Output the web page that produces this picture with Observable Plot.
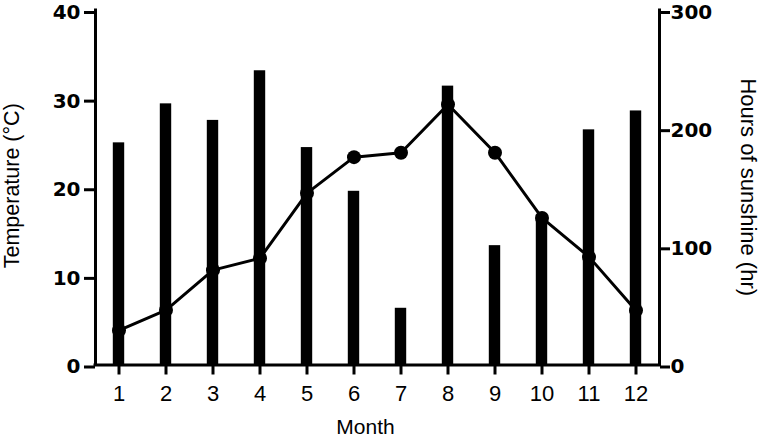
<!DOCTYPE html>
<html>
<head>
<meta charset="utf-8">
<script src="https://cdn.jsdelivr.net/npm/d3@7"></script>
<script src="https://cdn.jsdelivr.net/npm/@observablehq/plot@0.6"></script>
<style>
  html, body { margin: 0; padding: 0; background: #fff; }
  svg { display: block; }
</style>
</head>
<body>
<div id="chart"></div>
<script>
const months = [1, 2, 3, 4, 5, 6, 7, 8, 9, 10, 11, 12];
const temperature = [3.9, 6.2, 10.7, 12.05, 19.4, 23.45, 23.95, 29.4, 23.95, 16.6, 12.2, 6.15];
const sunshine = [188, 221, 207, 249, 184, 147, 48, 236, 101, 127, 199, 215];
const tempTicks = [0, 10, 20, 30, 40];
const sunTicks = [0, 100, 200, 300];
const tempMax = 40, sunMax = 300;
const ratio = tempMax / sunMax;

const data = months.map((m, i) => ({month: m, temp: temperature[i], sun: sunshine[i]}));

const tickFont = "'DejaVu Sans', sans-serif";
const textFont = "'Liberation Sans', Arial, sans-serif";

const chart = Plot.plot({
  width: 760,
  height: 438,
  marginLeft: 95,
  marginRight: 101,
  marginTop: 10,
  marginBottom: 73.5,
  style: {background: "#fff", color: "#000"},
  x: {type: "linear", domain: [0.5, 12.5]},
  y: {domain: [0, tempMax]},
  marks: [
    Plot.rectY(data, {x1: d => d.month - 0.5, x2: d => d.month + 0.5, y1: 0, y2: d => d.sun * ratio, fill: "#000", insetLeft: 17.8, insetRight: 17.8}),
    Plot.line(data, {x: "month", y: "temp", stroke: "#000", strokeWidth: 3}),
    Plot.dot(data, {x: "month", y: "temp", r: 7, fill: "#000"}),
    Plot.axisY({ticks: tempTicks, tickSize: 11, tickPadding: 4, strokeWidth: 3, fontSize: 20, fontWeight: "bold", fontFamily: tickFont, dy: 2, label: null}),
    Plot.axisY({anchor: "right", ticks: sunTicks.map(v => v * ratio), tickFormat: v => String(Math.round(v / ratio)), tickSize: 10, tickPadding: 1, strokeWidth: 3, fontSize: 20, fontWeight: "bold", fontFamily: tickFont, dy: 2, label: null}),
    Plot.axisX({ticks: months, tickFormat: d => String(d), tickSize: 10, tickPadding: 10, strokeWidth: 3, fontSize: 22, fontFamily: textFont, label: null}),
    Plot.ruleX([0.5, 12.5], {stroke: "#000", strokeWidth: 3, strokeLinecap: "square"}),
    Plot.ruleY([0], {stroke: "#000", strokeWidth: 3, strokeLinecap: "square"}),
    Plot.text(["Month"], {frameAnchor: "bottom", textAnchor: "middle", lineAnchor: "middle", text: d => d, dx: -12, dy: 62.5, fontSize: 21, fontFamily: textFont, fill: "#000"}),
    Plot.text(["Temperature (°C)"], {frameAnchor: "left", textAnchor: "middle", lineAnchor: "middle", text: d => d, rotate: -90, dx: -83, dy: -2, fontSize: 21.5, fontFamily: textFont, fill: "#000"}),
    Plot.text(["Hours of sunshine (hr)"], {frameAnchor: "right", textAnchor: "middle", lineAnchor: "middle", text: d => d, rotate: 90, dx: 88.5, dy: -0.5, fontSize: 22, fontFamily: textFont, fill: "#000"})
  ]
});

document.getElementById("chart").appendChild(chart);
</script>
</body>
</html>
